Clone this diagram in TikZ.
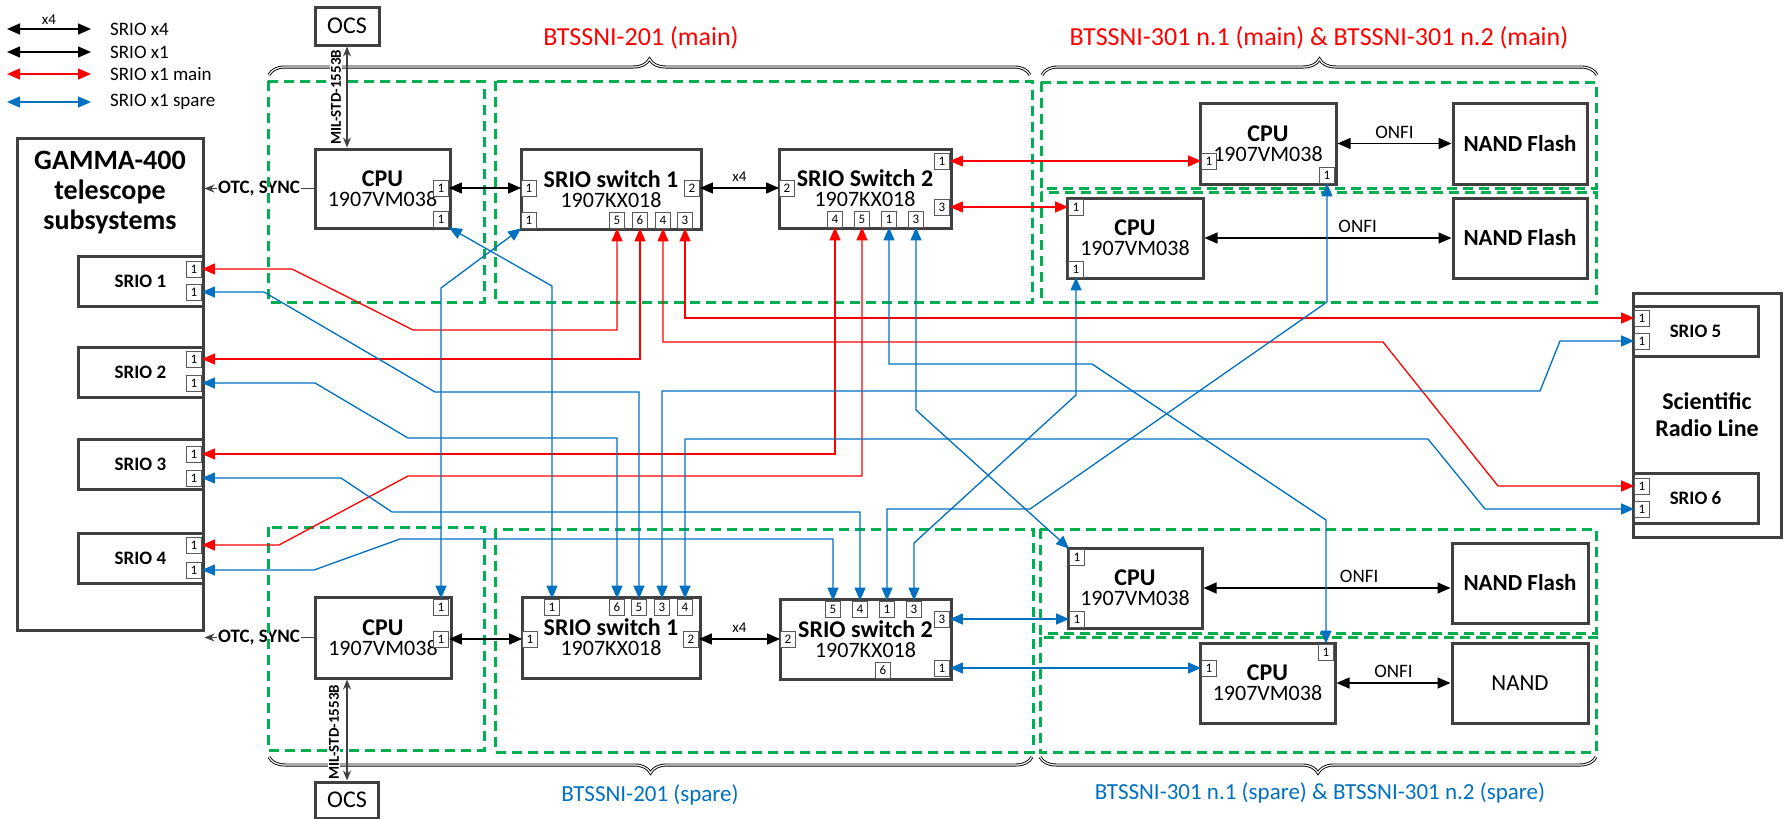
\documentclass[tikz,border=0pt]{standalone}
\usepackage{fontspec}
\setmainfont{Carlito}
\usetikzlibrary{arrows.meta,calc,positioning,decorations.pathreplacing}
\definecolor{frame}{HTML}{404040}
\definecolor{portline}{HTML}{595959}
\definecolor{mainred}{HTML}{FF0000}
\definecolor{spareblue}{HTML}{0070C0}
\definecolor{zonegreen}{HTML}{00B050}
\newcommand{\subfont}{\fontsize{19}{21}\selectfont}
\newcommand{\boxfont}{\fontsize{22}{20}\selectfont}
\newcommand{\headfont}{\fontsize{24}{24}\selectfont\bfseries}
\newcommand{\lblfont}{\fontsize{23}{24}\selectfont}
\newcommand{\bigfont}{\fontsize{28}{30}\selectfont\bfseries}
\newcommand{\portfont}{\fontsize{13}{13}\selectfont}
\newcommand{\smallfont}{\fontsize{15}{15}\selectfont}
\tikzset{
  >={Triangle[length=13pt,width=11pt]},
  blk/.style={draw=frame,line width=3pt,fill=white,align=center,inner sep=2pt,font=\boxfont},
  cpubox/.style={blk,minimum width=135pt,minimum height=80pt},
  swbox/.style={blk,minimum width=176pt,minimum height=80pt},
  nandbox/.style={blk,minimum width=134pt,minimum height=80pt,font=\fontsize{23}{24}\selectfont\bfseries},
  sriobox/.style={blk,minimum width=125pt,minimum height=50pt,font=\fontsize{19}{21}\selectfont\bfseries},
  port/.style={draw=portline,line width=0.8pt,fill=white,minimum width=15pt,minimum height=16pt,inner sep=0pt,font=\portfont},
  zone/.style={draw=zonegreen,line width=3pt,dash pattern=on 10pt off 6pt},
  link/.style={<->,line width=1.4pt,draw=black},
  mainlink/.style={<->,line width=1.3pt,draw=mainred},
  sparelink/.style={<->,line width=1.3pt,draw=spareblue},
  milbus/.style={{Stealth[length=10pt,width=8pt]}-{Stealth[length=10pt,width=8pt]},line width=1.3pt,draw=frame},
  ctrl/.style={{Stealth[length=10pt,width=8pt]}-,line width=1.3pt,draw=frame},
  grp/.style={decorate,decoration={brace,amplitude=16pt},draw=black,line width=0.9pt,double=white,double distance=1.2pt},
  miltxt/.style={font=\fontsize{15}{15}\selectfont\bfseries,rotate=90,fill=white,inner sep=1pt},
  otctxt/.style={font=\fontsize{19}{19}\selectfont\bfseries,fill=white,inner sep=1pt},
  onfi/.style={above=1pt,font=\fontsize{19}{19}\selectfont}
}

\begin{document}
\begin{tikzpicture}[x=1pt,y=-1pt]
  \useasboundingbox (0,0) rectangle (1789,819);

  % legend
  \node[font=\smallfont] (leg-x4) at (49,20) {x4};
  \foreach \y/\s/\t [count=\i] in {29/link/SRIO x4,52/link/SRIO x1,74/mainlink/SRIO x1 main,102/sparelink/SRIO x1 spare}{
    \coordinate (leg\i-a) at (7,\y);
    \coordinate (leg\i-b) at (91,\y);
    \draw[\s] (leg\i-a) -- (leg\i-b);
    \node[anchor=west,font=\subfont,inner sep=0pt] (leg\i) at (110,\y) {\t};
  }

  % boxes, main side
  \node[blk,minimum width=64pt,minimum height=38pt,font=\fontsize{24}{24}\selectfont] (ocsm) at (347,26) {OCS};
  \node[cpubox,minimum height=79pt] (cpum) at (382.5,188.5) {{\headfont CPU}\\1907VM038};
  \node[swbox,minimum width=180pt] (s1m) at (611,189) {{\headfont SRIO switch 1}\\1907KX018};
  \node[swbox,minimum width=172pt,minimum height=79pt] (s2m) at (865,188.5) {{\headfont SRIO Switch 2}\\1907KX018};
  \node[cpubox,minimum width=136pt,minimum height=81pt] (cpu1m) at (1268,143.5) {{\headfont CPU}\\1907VM038};
  \node[nandbox,minimum height=81pt] (nand1m) at (1520,143.5) {NAND Flash};
  \node[cpubox,minimum width=136pt] (cpu2m) at (1135,238) {{\headfont CPU}\\1907VM038};
  \node[nandbox] (nand2m) at (1520,238) {NAND Flash};

  % telescope side
  \node[blk,minimum width=186pt,minimum height=492pt] (gamma) at (110,384) {};
  \node[font=\bigfont,align=center] (gammatxt) at (110,193) {GAMMA-400\\telescope\\subsystems};
  \foreach \i/\y in {1/281,2/372,3/464.5,4/558}
    \node[sriobox] (srio\i) at (140.5,\y) {SRIO \i};

  % radio line
  \node[blk,minimum width=148pt,minimum height=244pt,font=\fontsize{24}{27}\selectfont\bfseries] (radio) at (1707,415) {Scientific\\Radio Line};
  \node[sriobox] (srio5) at (1695.5,331.5) {SRIO 5};
  \node[sriobox] (srio6) at (1695.5,498.5) {SRIO 6};

  % boxes, spare side
  \node[cpubox,minimum width=136pt,minimum height=81pt] (cpus) at (383,637.5) {{\headfont CPU}\\1907VM038};
  \node[blk,minimum width=63pt,minimum height=36pt,font=\fontsize{24}{24}\selectfont] (ocss) at (347,800) {OCS};
  \node[swbox,minimum width=178pt,minimum height=81pt] (s1s) at (611,637.5) {{\headfont SRIO switch 1}\\1907KX018};
  \node[swbox,minimum width=171pt] (s2s) at (865.5,639) {{\headfont SRIO switch 2}\\1907KX018};
  \node[cpubox,minimum width=134pt] (cpu1s) at (1135,588) {{\headfont CPU}\\1907VM038};
  \node[nandbox,minimum width=136pt] (nand1s) at (1520,583) {NAND Flash};
  \node[cpubox] (cpu2s) at (1267.5,683) {{\headfont CPU}\\1907VM038};
  \node[nandbox,minimum width=136pt,font=\fontsize{23}{24}\selectfont] (nand2s) at (1520,683) {NAND};

  % ports, main side
  \node[port] (cpum-r) at (441,188) {1};
  \node[port] (cpum-b) at (441,219) {1};
  \node[port] (s1m-l) at (529,188) {1};
  \node[port] (s1m-bl) at (529,220) {1};
  \node[port] (s1m-r) at (692,188) {2};
  \foreach \n/\x in {5/617,6/640,4/663,3/685}
    \node[port] (s1m-\n) at (\x,220) {\n};
  \node[port] (s2m-l) at (787,188) {2};
  \node[port] (s2m-r1) at (942,161) {1};
  \node[port] (s2m-r3) at (942,207) {3};
  \foreach \n/\x in {4/835,5/862,1/889,3/916}
    \node[port] (s2m-\n) at (\x,219) {\n};
  \node[port] (cpu1m-l) at (1209,161) {1};
  \node[port] (cpu1m-b) at (1327,175) {1};
  \node[port] (cpu2m-t) at (1076,207) {1};
  \node[port] (cpu2m-b) at (1076,269) {1};

  % ports, telescope and radio line
  \foreach \i/\y in {1/269,2/359,3/454,4/545}
    \node[port] (srio\i-r) at (194,\y) {1};
  \foreach \i/\y in {1/292,2/383,3/478,4/570}
    \node[port] (srio\i-b) at (194,\y) {1};
  \foreach \i/\y in {5/318,6/486}
    \node[port] (srio\i-r) at (1642,\y) {1};
  \foreach \i/\y in {5/341,6/509}
    \node[port] (srio\i-b) at (1642,\y) {1};

  % ports, spare side
  \node[port] (cpus-t) at (441,607) {1};
  \node[port] (cpus-r) at (441,639) {1};
  \node[port] (s1s-l) at (530,639) {1};
  \node[port] (s1s-r) at (691,639) {2};
  \foreach \n/\x in {1/552,6/617,5/639,3/662,4/685}
    \node[port] (s1s-\n) at (\x,607) {\n};
  \node[port] (s2s-l) at (788,639) {2};
  \node[port] (s2s-r3) at (942,619) {3};
  \node[port] (s2s-r1) at (942,668) {1};
  \node[port] (s2s-6) at (883,670) {6};
  \foreach \n/\x in {5/833,4/860,1/887,3/914}
    \node[port] (s2s-\n) at (\x,609) {\n};
  \node[port] (cpu1s-t) at (1077,557) {1};
  \node[port] (cpu1s-b) at (1077,619) {1};
  \node[port] (cpu2s-t) at (1326,652) {1};
  \node[port] (cpu2s-l) at (1209,668) {1};

  % control lines
  \draw[ctrl] (gamma.east |- cpum.west) -- node[otctxt] (otcm) {OTC, SYNC} (cpum.west);
  \draw[ctrl] (gamma.east |- cpus.west) -- node[otctxt] (otcs) {OTC, SYNC} (cpus.west);

  % board areas
  \draw[zone] (268,81) rectangle (484,302);
  \draw[zone] (495,81) rectangle (1032,302);
  \draw[zone] (1041,82) rectangle (1596,188);
  \draw[zone] (1041,192) rectangle (1596,302);
  \draw[zone] (268,527) rectangle (484,750);
  \draw[zone] (495,529) rectangle (1033,752);
  \draw[zone] (1040,529) rectangle (1596,633);
  \draw[zone] (1040,637) rectangle (1596,752);

  % black links
  \draw[link] (cpum-r) -- (s1m-l);
  \draw[link] (s1m-r) -- node[above=2pt,font=\smallfont] {x4} (s2m-l);
  \draw[link] (cpus-r) -- (s1s-l);
  \draw[link] (s1s-r) -- node[above=2pt,font=\smallfont] {x4} (s2s-l);
  \draw[link] (cpu1m) -- node[onfi] {ONFI} (nand1m);
  \draw[link] (cpu2m) -- node[onfi,pos=0.62] {ONFI} (nand2m);
  \draw[link] (cpu1s.east) -- node[onfi,pos=0.63] {ONFI} (cpu1s.east -| nand1s.west);
  \draw[link] (cpu2s) -- node[onfi] {ONFI} (nand2s);

  % main links
  \draw[mainlink] (srio1-r.east) -- (292,269) -- (413,330) -| (s1m-5.south);
  \draw[mainlink] (srio2-r.east) -| (s1m-6.south);
  \draw[mainlink] (s1m-3.south) |- (srio5-r.west);
  \draw[mainlink] (s1m-4.south) |- (1383,342) -- (1498,486) -- (srio6-r.west);
  \draw[mainlink] (s2m-4.south) |- (srio3-r.east);
  \draw[mainlink] (s2m-5.south) |- (408,476) -- (279,545) -- (srio4-r.east);
  \draw[mainlink] (s2m-r1) -- (cpu1m-l);
  \draw[mainlink] (s2m-r3) -- (cpu2m-t);

  % spare links
  \draw[sparelink] (cpum-b.south east) -- (552,286) -- (s1s-1.north);
  \draw[sparelink] (s1m-bl.south west) -- (441,288) -- (cpus-t.north);
  \draw[sparelink] (srio1-b.east) -- (264,292) -- (435,392) -| (s1s-5.north);
  \draw[sparelink] (srio2-b.east) -- (315,383) -- (408,438) -| (s1s-6.north);
  \draw[sparelink] (srio3-b.east) -- (341,478) -- (392,512) -| (s2s-4.north);
  \draw[sparelink] (srio4-b.east) -- (314,570) -- (400,539) -| (s2s-5.north);
  \draw[sparelink] (s1s-3.north) |- (1540,391) -- (1560,341) -- (srio5-b.west);
  \draw[sparelink] (s1s-4.north) |- (1428,439) -- (1485,509) -- (srio6-b.west);
  \draw[sparelink] (s2s-1.north) |- (1030,509) -- (1327,302) -- (cpu1m-b.south);
  \draw[sparelink] (s2s-3.north) -- (914,543) -- (1076,395) -- (cpu2m-b.south);
  \draw[sparelink] (s2m-3.south) -- (916,410) -- (cpu1s-t.north west);
  \draw[sparelink] (s2m-1.south) |- (1092,364) -- (1326,520) -- (cpu2s-t.north);
  \draw[sparelink] (s2s-r3) -- (cpu1s-b);
  \draw[sparelink] (s2s-r1) -- (cpu2s-l);

  % groups
  \draw[grp] (269,75) -- (1030,75);
  \draw[grp] (1042,75) -- (1597,75);
  \draw[grp] (1032,757) -- (269,757);
  \draw[grp] (1596,757) -- (1040,757);
  \node[font=\fontsize{26}{26}\selectfont,text=mainred] (grp201m) at (641,38) {BTSSNI-201 (main)};
  \node[font=\fontsize{26}{26}\selectfont,text=mainred] (grp301m) at (1319,38) {BTSSNI-301 n.1 (main) \& BTSSNI-301 n.2 (main)};
  \node[font=\lblfont,text=spareblue] (grp201s) at (650,795) {BTSSNI-201 (spare)};
  \node[font=\lblfont,text=spareblue] (grp301s) at (1320,793) {BTSSNI-301 n.1 (spare) \& BTSSNI-301 n.2 (spare)};

  % MIL-STD buses
  \draw[milbus] (ocsm.south) -- (ocsm.south |- cpum.north);
  \node[miltxt] (milm) at (336,97) {MIL-STD-1553B};
  \draw[milbus] (ocss.north |- cpus.south) -- (ocss.north);
  \node[miltxt] (mils) at (334,732) {MIL-STD-1553B};
\end{tikzpicture}
\end{document}
